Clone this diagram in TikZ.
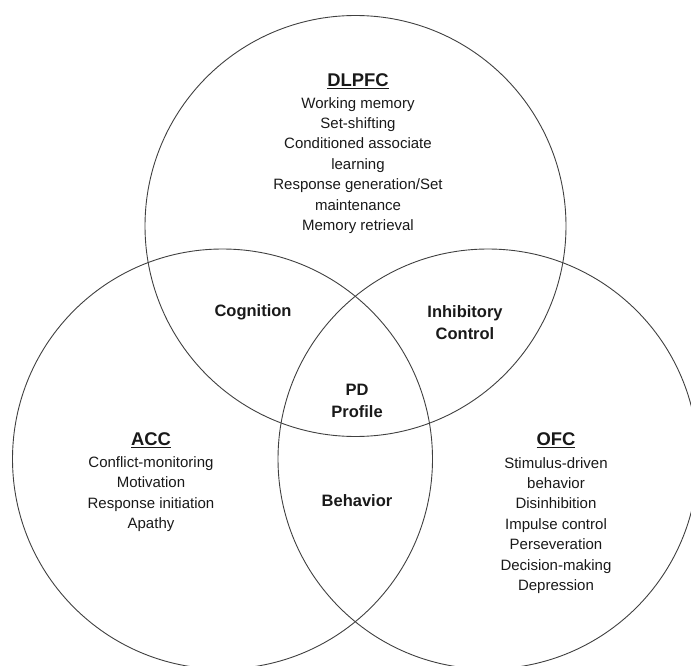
\documentclass[tikz,border=0pt]{standalone}
\usepackage{fontspec}
\setmainfont{Liberation Sans}
\begin{document}
\begin{tikzpicture}[x=1pt,y=-1pt,
  ring/.style={draw=black!75,line width=0.9pt},
  head/.style={font=\fontsize{18.4}{22}\selectfont\bfseries,text=black!90,inner sep=0pt},
  listtext/.style={font=\fontsize{15}{20.4}\selectfont,align=center,text=black!90,inner sep=0pt,anchor=base},
  zone/.style={font=\fontsize{16.5}{22}\selectfont\bfseries,align=center,text=black!90,inner sep=0pt}]
\useasboundingbox (0,0) rectangle (691,666);
\begin{scope}
\clip (0,0) rectangle (691,666);
\draw[ring] (355.5,226) circle[radius=210.5];
\draw[ring] (222.5,459) circle[radius=210];
\draw[ring] (488,459) circle[radius=210];
\end{scope}
\node[head] (dlpfc) at (358,81) {\underline{DLPFC}};
\node[listtext] (dlist) at (358,230.5) {Working memory\\Set-shifting\\Conditioned associate\\learning\\Response generation/Set\\maintenance\\Memory retrieval};
\node[head] (acc) at (151,440) {\underline{ACC}};
\node[listtext] (alist) at (151,528.5) {Conflict-monitoring\\Motivation\\Response initiation\\Apathy};
\node[head] (ofc) at (556,440) {\underline{OFC}};
\node[listtext] (olist) at (556,590.5) {Stimulus-driven\\behavior\\Disinhibition\\Impulse control\\Perseveration\\Decision-making\\Depression};
\node[zone] (cog) at (253,312) {Cognition};
\node[zone] (inh) at (465,323) {Inhibitory\\Control};
\node[zone] (pd) at (357,401) {PD\\Profile};
\node[zone] (beh) at (357,501) {Behavior};
\end{tikzpicture}
\end{document}
